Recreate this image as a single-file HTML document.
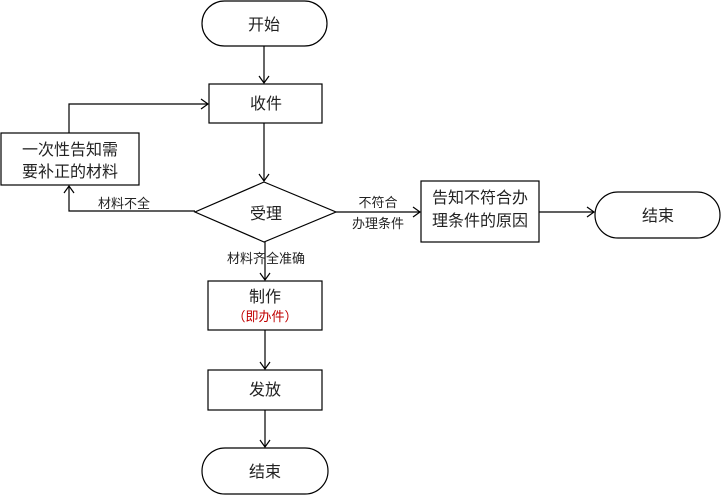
<!DOCTYPE html>
<html><head><meta charset="utf-8"><style>
html,body{margin:0;padding:0;background:#fff;}
svg{display:block;}
text{font-family:"Liberation Sans","Noto Sans CJK SC",sans-serif;fill:#222;}
</style></head><body>
<svg width="721" height="496" viewBox="0 0 721 496" xmlns="http://www.w3.org/2000/svg">
<g stroke="#000" stroke-width="1.2" fill="#fff">
<rect x="202" y="1" width="125" height="45" rx="22.5"/>
<rect x="209" y="84" width="113" height="39"/>
<rect x="1" y="133" width="138" height="52"/>
<polygon points="264,182 336,212 264,242 195,212"/>
<rect x="421" y="181" width="118" height="61"/>
<rect x="595" y="192" width="125" height="46" rx="23"/>
<rect x="208" y="281" width="114" height="49"/>
<rect x="208" y="370" width="114" height="40"/>
<rect x="202" y="448" width="126" height="46" rx="23"/>
</g>
<g stroke="#000" stroke-width="1.2" fill="none">
<line x1="264" y1="46" x2="264" y2="83"/><polyline points="259,76 264,83 269,76"/>
<polyline points="69,133 69,104 208,104"/><polyline points="201,99 208,104 201,109"/>
<line x1="264" y1="123" x2="264" y2="181"/><polyline points="259,174 264,181 269,174"/>
<polyline points="195,211 69,211 69,186"/><polyline points="64,193 69,186 74,193"/>
<line x1="336" y1="212" x2="420" y2="212"/><polyline points="413,207 420,212 413,217"/>
<line x1="539" y1="212" x2="594" y2="212"/><polyline points="587,207 594,212 587,217"/>
<line x1="265" y1="242" x2="265" y2="280"/><polyline points="260,273 265,280 270,273"/>
<line x1="265" y1="330" x2="265" y2="369"/><polyline points="260,362 265,369 270,362"/>
<line x1="265" y1="410" x2="265" y2="447"/><polyline points="260,440 265,447 270,440"/>
</g>
<g font-size="16" text-anchor="middle">
<text x="264" y="30">开始</text>
<text x="266" y="109">收件</text>
<text x="70" y="155">一次性告知需</text>
<text x="70" y="177">要补正的材料</text>
<text x="266" y="219">受理</text>
<text x="480" y="203">告知不符合办</text>
<text x="480" y="226">理条件的原因</text>
<text x="658" y="221">结束</text>
<text x="265" y="302">制作</text>
<text x="265" y="395">发放</text>
<text x="265" y="477">结束</text>
</g>
<g font-size="13" text-anchor="middle">
<text x="124" y="208">材料不全</text>
<text x="378" y="207">不符合</text>
<text x="378" y="228">办理条件</text>
<text x="266" y="263">材料齐全准确</text>
<text x="265" y="321" style="fill:#c00000">（即办件）</text>
</g>
</svg>
</body></html>
